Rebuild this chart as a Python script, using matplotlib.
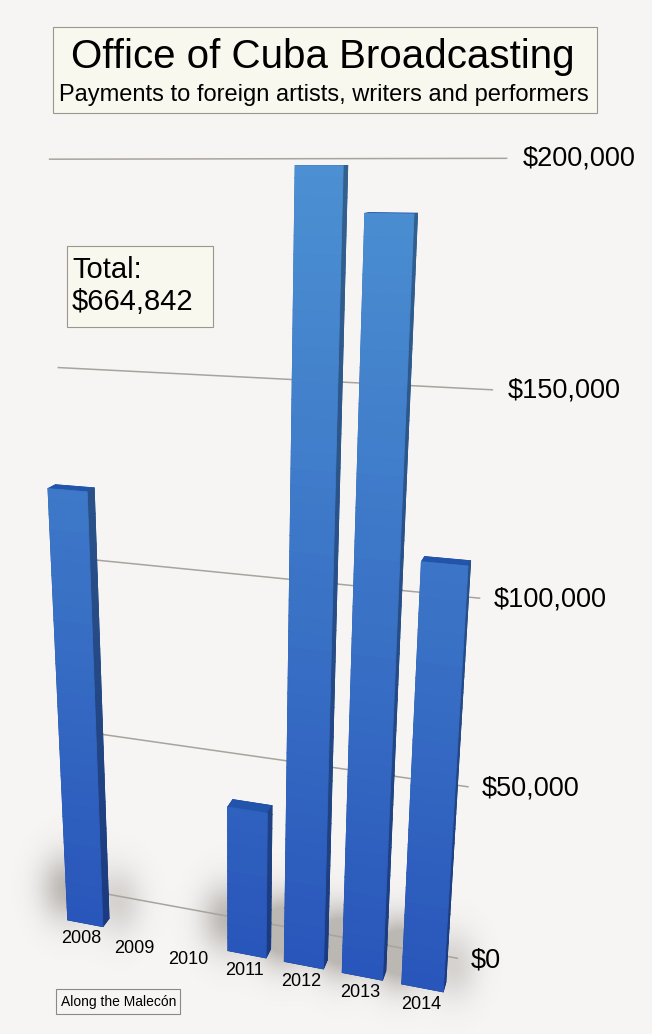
import numpy as np
import matplotlib.pyplot as plt
from matplotlib.patches import Rectangle
from matplotlib.colors import to_rgb
from mpl_toolkits.mplot3d import proj3d

plt.rcParams['font.family'] = ['Liberation Sans', 'DejaVu Sans']

# --- data ---
years = ['2008', '2009', '2010', '2011', '2012', '2013', '2014']
payments = [122500, 0, 0, 42500, 198500, 188800, 112542]
grid_values = [0, 50000, 100000, 150000, 200000]
grid_labels = ['$0', '$50,000', '$100,000', '$150,000', '$200,000']
total_text = 'Total:\n$664,842'

W, H = 652, 1034
bg = '#f6f5f4'
fig = plt.figure(figsize=(W / 100, H / 100), dpi=100, facecolor=bg)

# square 3d panel, perspective view from front-right, a bit above
side = W / H
ax = fig.add_axes([-0.153, 0.1258, 1.0, side], projection='3d',
                  computed_zorder=False, zorder=1)
ax.set_facecolor('none')
ax.set_proj_type('persp', focal_length=0.36)
ax.view_init(elev=17.6, azim=-72)
ax.set_box_aspect((1.48, 0.26, 2.44), zoom=1.51)
ax.set_xlim(-1.4, 6.8)
ax.set_ylim(0, 1.6)
ax.set_zlim(0, 210000)
ax.set_axis_off()

M = ax.get_proj()


def to2d(x, y, z):
    px, py, _ = proj3d.proj_transform(np.atleast_1d(x), np.atleast_1d(y),
                                      np.atleast_1d(z), M)
    return px[0], py[0]


wall_y = 1.6
wall_x = (-0.55, 6.42)

# grid lines on the back wall, labels at their right ends
for v, lab in zip(grid_values, grid_labels):
    ax.plot(wall_x, [wall_y, wall_y], [v, v], color='#a9a39d', lw=1.1,
            zorder=1, clip_on=False)
    tx, ty = to2d(wall_x[1] + 0.22, wall_y, v)
    ax.text2D(tx, ty, lab, transform=ax.transData, ha='left', va='center',
              fontsize=19.5, color='black', zorder=5)

xs = np.arange(len(years))
vals = np.array(payments, dtype=float)
bw, bd, by0 = 0.68, 0.3, 0.5

# bars, cut in thin slices so the front face runs light (top) to dark (foot)
c_low = np.array(to_rgb('#2855ba'))
c_high = np.array(to_rgb('#4c90d2'))
seg = 4000
bx, bz, bh, cols = [], [], [], []
for x, v in zip(xs, vals):
    if v <= 0:
        continue
    edges = np.append(np.arange(0, v, seg), v)
    for z0, z1 in zip(edges[:-1], edges[1:]):
        t = np.clip((z0 + z1) / 2 / 200000, 0, 1)
        front = c_low + (c_high - c_low) * t
        top = np.array(to_rgb('#2254ac')) if z1 == v else front
        cols += [front * 0.7, top, front, front * 0.85, front * 0.88, front * 0.68]
        bx.append(x - bw / 2)
        bz.append(z0)
        bh.append(z1 - z0)
n = len(bx)
bars = ax.bar3d(np.array(bx), np.full(n, by0), np.array(bz), bw, bd, np.array(bh),
                color=cols, edgecolor=cols, linewidth=0.6, shade=False, zorder=2)
bars.set_clip_on(False)

# year labels on the floor in front of the bars
for x, yr in zip(xs, years):
    tx, ty = to2d(x + 0.02, by0 - 0.24, 0)
    ax.text2D(tx, ty, yr, transform=ax.transData, ha='center', va='top',
              fontsize=13, zorder=5)

# soft shadows round the bar feet, as a blurred layer under the 3d panel
fig.canvas.draw()
gx, gy = np.meshgrid(np.arange(W), np.arange(H))
shade = np.zeros((H, W))
for x, v in zip(xs, vals):
    if v <= 0:
        continue
    px, py = ax.transData.transform(to2d(x, by0 + bd / 2, 0))
    cy = H - py
    shade += np.exp(-(((gx - px + 22) / 26) ** 2 + ((gy - cy + 32) / 34) ** 2))
    shade += 0.55 * np.exp(-(((gx - px - 30) / 24) ** 2 + ((gy - cy + 18) / 34) ** 2))
shade = np.clip(shade, 0, 1) * 0.42
rgba = np.zeros((H, W, 4))
rgba[..., :3] = np.array(to_rgb('#6b625a'))
rgba[..., 3] = shade
sax = fig.add_axes([0, 0, 1, 1], zorder=0)
sax.imshow(rgba, extent=(0, W, H, 0), interpolation='bilinear')
sax.set_xlim(0, W)
sax.set_ylim(H, 0)
sax.set_axis_off()

# title box
fig.patches.append(Rectangle((53 / W, 1 - 113 / H), 544 / W, 86 / H,
                             transform=fig.transFigure, facecolor='#f9f8ee',
                             edgecolor='#9c968c', lw=0.8, zorder=2))
fig.text(323 / W, 1 - 57 / H, 'Office of Cuba Broadcasting', ha='center',
         va='center', fontsize=29, zorder=3)
fig.text(324 / W, 1 - 95 / H, 'Payments to foreign artists, writers and performers',
         ha='center', va='center', fontsize=17, zorder=3)

# total box
fig.patches.append(Rectangle((67 / W, 1 - 327 / H), 146 / W, 81 / H,
                             transform=fig.transFigure, facecolor='#f9f8ee',
                             edgecolor='#9c968c', lw=0.8, zorder=2))
fig.text(72 / W, 1 - 286 / H, total_text, ha='left', va='center',
         fontsize=21, linespacing=1.2, zorder=3)

# credit box
fig.patches.append(Rectangle((56 / W, 1 - 1014 / H), 124 / W, 25 / H,
                             transform=fig.transFigure, facecolor='none',
                             edgecolor='#8c8882', lw=0.8, zorder=2))
fig.text(61 / W, 1 - 1002 / H, 'Along the Malecón', ha='left', va='center',
         fontsize=10, zorder=3)

fig.savefig('out.png', dpi=100, facecolor=bg)
